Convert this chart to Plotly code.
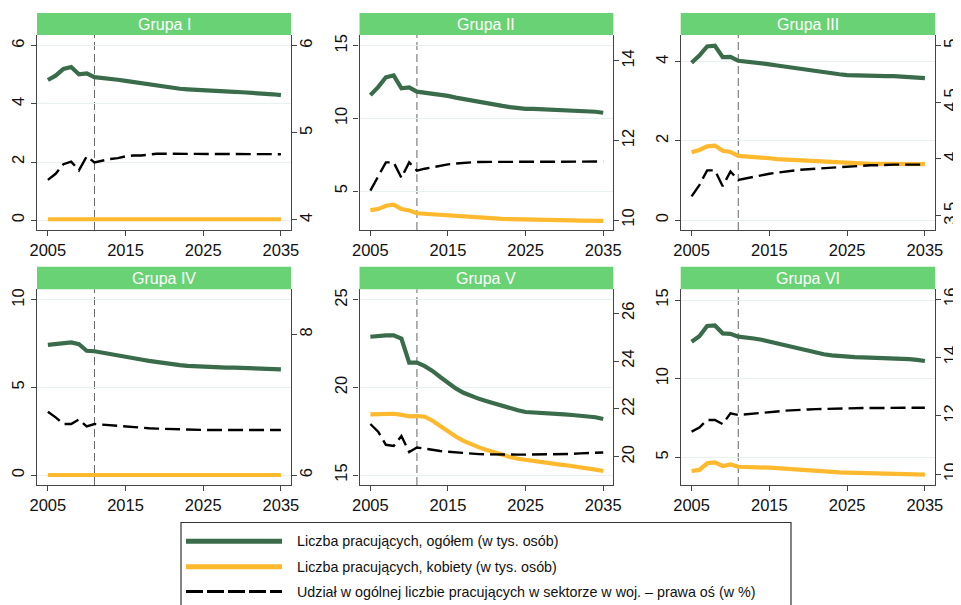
import plotly.graph_objects as go

years = list(range(2005, 2036))

group_names = ["Grupa I", "Grupa II", "Grupa III", "Grupa IV", "Grupa V", "Grupa VI"]

# Liczba pracujących, ogółem (w tys. osób)
total_I = [4.82, 4.97, 5.20, 5.27, 5.02, 5.05, 4.92, 4.90, 4.87, 4.83, 4.79, 4.75, 4.70, 4.65, 4.61, 4.58,
           4.55, 4.52, 4.50, 4.48, 4.46, 4.44, 4.43, 4.42, 4.41, 4.40, 4.39, 4.38, 4.36, 4.33, 4.30]
total_II = [11.60, 12.15, 12.83, 12.96, 12.07, 12.14, 11.84, 11.78, 11.72, 11.65, 11.55, 11.43, 11.33, 11.22, 11.10, 11.00,
            10.92, 10.86, 10.78, 10.70, 10.66, 10.65, 10.63, 10.62, 10.60, 10.58, 10.55, 10.52, 10.50, 10.46, 10.39]
total_III = [3.97, 4.15, 4.38, 4.40, 4.11, 4.12, 4.02, 4.00, 3.99, 3.96, 3.93, 3.90, 3.87, 3.84, 3.81, 3.78,
             3.75, 3.72, 3.70, 3.68, 3.66, 3.65, 3.64, 3.64, 3.63, 3.63, 3.63, 3.62, 3.61, 3.60, 3.58]
total_IV = [7.43, 7.48, 7.55, 7.58, 7.48, 7.10, 7.07, 7.00, 6.93, 6.85, 6.76, 6.68, 6.60, 6.52, 6.45, 6.38,
            6.33, 6.28, 6.24, 6.21, 6.19, 6.17, 6.15, 6.14, 6.13, 6.12, 6.11, 6.10, 6.08, 6.06, 6.04]
total_V = [22.90, 22.95, 22.98, 22.98, 22.80, 21.42, 21.42, 21.22, 20.95, 20.60, 20.24, 19.95, 19.70, 19.50, 19.35, 19.22,
           19.08, 18.95, 18.82, 18.70, 18.60, 18.56, 18.53, 18.50, 18.48, 18.46, 18.43, 18.40, 18.36, 18.30, 18.20]
total_VI = [12.35, 12.70, 13.35, 13.38, 12.88, 12.85, 12.67, 12.63, 12.55, 12.47, 12.35, 12.22, 12.10, 11.98, 11.85, 11.73,
            11.63, 11.55, 11.48, 11.43, 11.40, 11.37, 11.35, 11.34, 11.33, 11.33, 11.30, 11.27, 11.24, 11.19, 11.12]

# Liczba pracujących, kobiety (w tys. osób)
women_I = [0.03] * 31
women_II = [3.69, 3.76, 3.99, 4.06, 3.76, 3.66, 3.47, 3.43, 3.39, 3.35, 3.31, 3.27, 3.24, 3.20, 3.16, 3.13,
            3.11, 3.09, 3.07, 3.05, 3.04, 3.03, 3.02, 3.00, 2.99, 2.98, 2.98, 2.97, 2.97, 2.96, 2.95]
women_III = [1.71, 1.77, 1.86, 1.88, 1.75, 1.72, 1.62, 1.61, 1.60, 1.58, 1.56, 1.54, 1.53, 1.51, 1.50, 1.49,
             1.47, 1.46, 1.45, 1.44, 1.43, 1.43, 1.42, 1.42, 1.42, 1.42, 1.42, 1.41, 1.41, 1.41, 1.41]
women_IV = [0.0] * 31
women_V = [18.47, 18.47, 18.48, 18.50, 18.44, 18.35, 18.37, 18.33, 18.10, 17.80, 17.47, 17.20, 16.95, 16.75, 16.58, 16.43,
           16.28, 16.15, 16.03, 15.93, 15.86, 15.78, 15.72, 15.67, 15.62, 15.57, 15.52, 15.46, 15.39, 15.31, 15.23]
women_VI = [4.13, 4.20, 4.62, 4.68, 4.45, 4.55, 4.40, 4.40, 4.39, 4.37, 4.34, 4.31, 4.27, 4.23, 4.19, 4.15,
            4.12, 4.09, 4.06, 4.04, 4.03, 4.02, 4.01, 4.00, 3.99, 3.98, 3.96, 3.95, 3.93, 3.91, 3.90]

# Udział w ogólnej liczbie pracujących w sektorze w woj. (w %) - prawa oś
share_I = [4.46, 4.53, 4.64, 4.67, 4.57, 4.73, 4.66, 4.68, 4.70, 4.71, 4.73, 4.74, 4.74, 4.75, 4.76, 4.76,
           4.76, 4.76, 4.76, 4.76, 4.76, 4.76, 4.76, 4.76, 4.76, 4.76, 4.76, 4.76, 4.76, 4.755, 4.755]
share_II = [10.74, 11.10, 11.45, 11.45, 11.06, 11.45, 11.24, 11.29, 11.33, 11.37, 11.40, 11.42, 11.44, 11.45, 11.46, 11.46,
            11.47, 11.47, 11.47, 11.47, 11.47, 11.47, 11.47, 11.47, 11.47, 11.47, 11.47, 11.47, 11.47, 11.47, 11.47]
share_III = [3.67, 3.77, 3.90, 3.90, 3.76, 3.89, 3.815, 3.83, 3.845, 3.86, 3.87, 3.88, 3.89, 3.90, 3.905, 3.91,
             3.915, 3.92, 3.925, 3.93, 3.935, 3.94, 3.94, 3.945, 3.945, 3.95, 3.95, 3.95, 3.95, 3.95, 3.95]
share_IV = [6.90, 6.82, 6.725, 6.725, 6.79, 6.69, 6.725, 6.715, 6.705, 6.695, 6.685, 6.675, 6.67, 6.665, 6.66, 6.655,
            6.65, 6.645, 6.64, 6.64, 6.64, 6.64, 6.64, 6.64, 6.64, 6.64, 6.64, 6.64, 6.64, 6.64, 6.64]
share_V = [21.37, 21.05, 20.50, 20.45, 20.87, 20.20, 20.39, 20.33, 20.28, 20.24, 20.21, 20.18, 20.15, 20.13, 20.11, 20.10,
           20.09, 20.09, 20.09, 20.09, 20.09, 20.09, 20.09, 20.09, 20.09, 20.10, 20.12, 20.14, 20.16, 20.17, 20.18]
share_VI = [11.46, 11.60, 11.86, 11.86, 11.72, 12.09, 12.03, 12.05, 12.07, 12.10, 12.12, 12.15, 12.18, 12.20, 12.21, 12.22,
            12.23, 12.24, 12.25, 12.26, 12.26, 12.27, 12.27, 12.27, 12.27, 12.27, 12.27, 12.27, 12.28, 12.28, 12.28]

totals = [total_I, total_II, total_III, total_IV, total_V, total_VI]
women = [women_I, women_II, women_III, women_IV, women_V, women_VI]
shares = [share_I, share_II, share_III, share_IV, share_V, share_VI]

left_ticks = [[0, 2, 4, 6], [5, 10, 15], [0, 2, 4], [0, 5, 10], [15, 20, 25], [5, 10, 15]]
right_ticks = [[4, 5, 6], [10, 12, 14], [3.5, 4, 4.5, 5], [6, 8], [20, 22, 24, 26], [10, 12, 14, 16]]
left_ranges = [[-0.34, 6.37], [2.32, 15.74], [-0.25, 4.67], [-0.57, 10.61], [14.43, 25.61], [3.24, 15.68]]
right_ranges = [[3.885, 6.123], [9.75, 14.65], [3.374, 5.093], [5.858, 8.64], [18.82, 27.0], [9.63, 16.34]]
x_ticks = [2005, 2015, 2025, 2035]
forecast_start = 2011

legend_labels = [
    "Liczba pracujących, ogółem (w tys. osób)",
    "Liczba pracujących, kobiety (w tys. osób)",
    "Udział w ogólnej liczbie pracujących w sektorze w woj. – prawa oś (w %)",
]

GREEN = "#3A6B4B"
YELLOW = "#FFB92E"
HEADER = "#69D275"
AXIS = "#444444"
GRID = "#E8F0F0"
FONT = "Liberation Sans, Arial, sans-serif"

# the page body has an 8px margin: the figure is made smaller and offset-corrected
OFF = 8
W, H = 961 - OFF, 605 - OFF
col_px = [(37, 291), (359.5, 613.3), (680.7, 935)]
row_px = [(35, 230), (289.3, 485)]
head_px = [(13, 35), (266.7, 289.3)]


def fx(p):
    return (p - OFF) / W


def fy(p):
    return 1 - (p - OFF) / H


fig = go.Figure()
layout = dict(
    width=W, height=H, margin=dict(l=0, r=0, t=0, b=0, autoexpand=False),
    paper_bgcolor="white", plot_bgcolor="white", showlegend=False,
    font=dict(family=FONT, size=16, color="#111"),
)
shapes = []
annotations = []

for i in range(6):
    r, c = divmod(i, 3)
    xn = "x" if i == 0 else f"x{i+1}"
    yl = f"y{2*i+1}" if i > 0 else "y"
    yr = f"y{2*i+2}"
    xkey = "xaxis" if i == 0 else f"xaxis{i+1}"
    ylkey = "yaxis" if i == 0 else f"yaxis{2*i+1}"
    yrkey = f"yaxis{2*i+2}"

    fig.add_trace(go.Scatter(x=years, y=totals[i], mode="lines", xaxis=xn, yaxis=yl,
                             line=dict(color=GREEN, width=4.2), name=legend_labels[0]))
    fig.add_trace(go.Scatter(x=years, y=women[i], mode="lines", xaxis=xn, yaxis=yl,
                             line=dict(color=YELLOW, width=4.2), name=legend_labels[1]))
    fig.add_trace(go.Scatter(x=years, y=shares[i], mode="lines", xaxis=xn, yaxis=yr,
                             line=dict(color="black", width=2.4, dash="15px,6px"), name=legend_labels[2]))

    x0, x1 = col_px[c]
    y0, y1 = row_px[r]
    tickfont = dict(size=16.5, family=FONT, color="#111")
    layout[xkey] = dict(
        domain=[fx(x0), fx(x1)], anchor=yl, range=[2003.6, 2036.3], automargin=False,
        tickvals=x_ticks, ticks="outside", ticklen=5, tickcolor=AXIS, tickwidth=1.2,
        showline=True, linecolor=AXIS, linewidth=1.3, showgrid=False, zeroline=False,
        tickfont=tickfont,
    )
    layout[ylkey] = dict(
        domain=[fy(y1), fy(y0)], anchor=xn, range=left_ranges[i], automargin=False,
        tickvals=left_ticks[i], ticks="outside", ticklen=5, tickcolor=AXIS, tickwidth=1.2,
        showline=True, linecolor=AXIS, linewidth=1.3, showgrid=True, gridcolor=GRID, gridwidth=1.2,
        zeroline=False, tickangle=-90, tickfont=tickfont,
    )
    layout[yrkey] = dict(
        domain=[fy(y1), fy(y0)], anchor=xn, overlaying=yl, side="right", range=right_ranges[i],
        automargin=False, ticklabelstandoff=-5,
        tickvals=right_ticks[i], ticks="outside", ticklen=5, tickcolor=AXIS, tickwidth=1.2,
        showline=True, linecolor=AXIS, linewidth=1.3, showgrid=False, zeroline=False,
        tickangle=-90, tickfont=tickfont,
    )
    # forecast start marker
    shapes.append(dict(type="line", xref=xn, yref=f"{yl} domain", x0=forecast_start, x1=forecast_start,
                       y0=0, y1=1, line=dict(color="#666666", width=1, dash="8px,4px"), layer="below"))
    # header strip
    hy0, hy1 = head_px[r]
    shapes.append(dict(type="rect", xref="paper", yref="paper", x0=fx(x0), x1=fx(x1),
                       y0=fy(hy1), y1=fy(hy0), fillcolor=HEADER, line=dict(width=0)))
    annotations.append(dict(xref="paper", yref="paper", x=fx((x0 + x1) / 2), y=fy((hy0 + hy1) / 2),
                            text=group_names[i], showarrow=False, xanchor="center", yanchor="middle",
                            font=dict(size=16, color="white", family=FONT)))

# legend box
shapes.append(dict(type="rect", xref="paper", yref="paper", x0=fx(181), x1=fx(791), y0=fy(620), y1=fy(522.5),
                   line=dict(color="#333333", width=1.2), fillcolor="rgba(0,0,0,0)"))
leg_y = [541.3, 566.7, 591.5]
leg_styles = [dict(color=GREEN, width=5), dict(color=YELLOW, width=5),
              dict(color="black", width=3, dash="17px,4px")]
for k in range(3):
    shapes.append(dict(type="line", xref="paper", yref="paper", x0=fx(186), x1=fx(282),
                       y0=fy(leg_y[k]), y1=fy(leg_y[k]), line=leg_styles[k]))
    annotations.append(dict(xref="paper", yref="paper", x=fx(295), y=fy(leg_y[k]), text=legend_labels[k],
                            showarrow=False, xanchor="left", yanchor="middle",
                            font=dict(size=14.3, color="#111", family=FONT)))

layout["shapes"] = shapes
layout["annotations"] = annotations
fig.update_layout(**layout)
fig.write_html("out.html")
